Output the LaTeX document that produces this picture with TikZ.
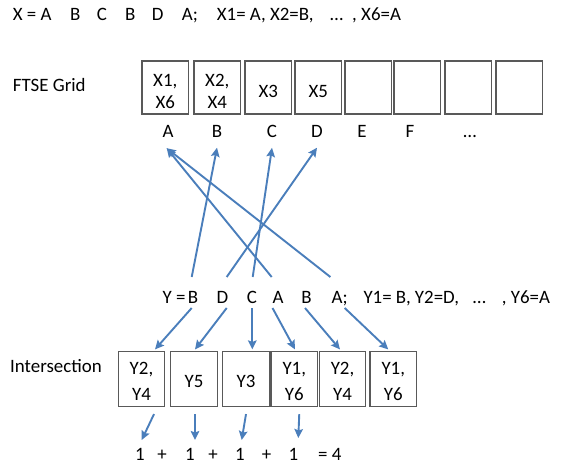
\documentclass[tikz,border=0pt]{standalone}
\usepackage{fontspec}
\setmainfont{Carlito}
\usetikzlibrary{arrows.meta}
\definecolor{arrowblue}{HTML}{4A7EBB}
\definecolor{boxgray}{HTML}{595959}
\tikzset{
  txt/.style={inner sep=0pt, font=\fontsize{18.9}{22}\selectfont},
  gridbox/.style={draw=boxgray, line width=1.2pt, minimum width=46.5pt, minimum height=53pt, inner sep=0pt, fill=white},
  intbox/.style={draw=boxgray, line width=1.2pt, minimum width=46.5pt, minimum height=55pt, inner sep=0pt, fill=white},
  boxtxt/.style={inner sep=0pt, align=center, font=\fontsize{18.9}{21.5}\selectfont},
  boxtxtb/.style={inner sep=0pt, align=center, font=\fontsize{18.9}{26}\selectfont},
  arr/.style={draw=arrowblue, line width=1.9pt, -{Stealth[length=9pt,width=8.5pt,inset=1.5pt]}}
}
\begin{document}
\begin{tikzpicture}[x=1pt,y=-1pt]
\useasboundingbox (0,0) rectangle (564,464);
% top line
\node[txt,anchor=base west] (t1) at (12.7,20.7) {X = A};
\node[txt,anchor=base west] (t2) at (70,20.7) {B};
\node[txt,anchor=base west] (t3) at (96.7,20.7) {C};
\node[txt,anchor=base west] (t4) at (125,20.7) {B};
\node[txt,anchor=base west] (t5) at (151.7,20.7) {D};
\node[txt,anchor=base west] (t6) at (181.7,20.7) {A;};
\node[txt,anchor=base west] (t7) at (216.7,20.7) {X1= A, X2=B,};
\node[txt,anchor=base west] (t8) at (330,20.7) {…};
\node[txt,anchor=base west] (t9) at (352,20.7) {, X6=A};
% FTSE grid
\node[txt,anchor=base west] (ftse) at (12.7,91) {FTSE Grid};
\node[gridbox] (g1) at (165.25,87.5) {};
\node[gridbox] (g2) at (217.25,87.5) {};
\node[gridbox] (g3) at (268.25,87.5) {};
\node[gridbox] (g4) at (318.25,87.5) {};
\node[gridbox] (g5) at (368.25,87.5) {};
\node[gridbox] (g6) at (417.25,87.5) {};
\node[gridbox] (g7) at (468.25,87.5) {};
\node[gridbox] (g8) at (519.25,87.5) {};
\node[boxtxt] (g1t) at ([yshift=-4pt]g1.center) {X1,\\X6};
\node[boxtxt] (g2t) at ([yshift=-4pt]g2.center) {X2,\\X4};
\node[boxtxt] (g3t) at ([yshift=-4pt]g3.center) {X3};
\node[boxtxt] (g4t) at ([yshift=-4pt]g4.center) {X5};
% grid letters
\node[txt,anchor=base] (gA) at (168,137.5) {A};
\node[txt,anchor=base] (gB) at (217,137.5) {B};
\node[txt,anchor=base] (gC) at (272,137.5) {C};
\node[txt,anchor=base] (gD) at (317,137.5) {D};
\node[txt,anchor=base] (gE) at (362,137.5) {E};
\node[txt,anchor=base] (gF) at (410,137.5) {F};
\node[txt,anchor=base] (gDots) at (470,137.5) {…};
% Y line
\node[txt,anchor=base west] (yY) at (162.5,303) {Y =};
\node[txt,anchor=base] (yB) at (193,303) {B};
\node[txt,anchor=base] (yD) at (222.5,303) {D};
\node[txt,anchor=base] (yC) at (252,303) {C};
\node[txt,anchor=base] (yA) at (278,303) {A};
\node[txt,anchor=base] (yB2) at (306.5,303) {B};
\node[txt,anchor=base west] (yA2) at (331.5,303) {A;};
\node[txt,anchor=base west] (y7) at (363.3,303) {Y1= B, Y2=D,};
\node[txt,anchor=base west] (y8) at (472.7,303) {…};
\node[txt,anchor=base west] (y9) at (501.7,303) {, Y6=A};
% upward arrows
\draw[arr] ([shift={(-1.3,-26)}]yB.base) -- ([shift={(0,10)}]gB.south);
\draw[arr] ([shift={(4.2,-26)}]yD.base) -- ([shift={(0,10)}]gD.south);
\draw[arr] ([shift={(0.7,-26)}]yC.base) -- ([shift={(0,10)}]gC.south);
\draw[arr] ([shift={(-6.3,-26)}]yA.base) -- ([shift={(-1.3,10.5)}]gA.south);
\draw[arr] ([shift={(-9.3,-26)}]yA2.base) -- ([shift={(-1.3,10.5)}]gA.south);
% Intersection
\node[txt,anchor=base west] (inter) at (10,372.7) {Intersection};
\node[intbox] (b1) at (141.5,379) {};
\node[intbox] (b2) at (194,379) {};
\node[intbox] (b3) at (246,379) {};
\node[intbox] (b4) at (294.25,379) {};
\node[intbox] (b5) at (342.5,379) {};
\node[intbox] (b6) at (393.25,379) {};
\node[boxtxtb] (b1t) at ([yshift=-2pt]b1.center) {Y2,\\Y4};
\node[boxtxtb] (b2t) at ([yshift=-2pt]b2.center) {Y5};
\node[boxtxtb] (b3t) at ([yshift=-2pt]b3.center) {Y3};
\node[boxtxtb] (b4t) at ([yshift=-2pt]b4.center) {Y1,\\Y6};
\node[boxtxtb] (b5t) at ([yshift=-2pt]b5.center) {Y2,\\Y4};
\node[boxtxtb] (b6t) at ([yshift=-2pt]b6.center) {Y1,\\Y6};
% downward arrows
\draw[arr] ([shift={(-1.3,5)}]yB.base) -- ([shift={(13.5,-1.5)}]b1.north);
\draw[arr] ([shift={(4.2,5)}]yD.base) -- ([shift={(1,-1.5)}]b2.north);
\draw[arr] ([shift={(0.3,5)}]yC.base) -- ([shift={(6.3,-1.5)}]b3.north);
\draw[arr] ([shift={(-5.5,5)}]yA.base) -- ([shift={(0.75,-1.5)}]b4.north);
\draw[arr] ([shift={(-1.5,5)}]yB2.base) -- ([shift={(-2.5,-1.5)}]b5.north);
\draw[arr] ([shift={(5,5)}]yA2.base) -- ([shift={(-5,-1.5)}]b6.north);
% sum line
\node[txt,anchor=base] (s1) at (140,460) {1};
\node[txt,anchor=base] (p1) at (162,460) {+};
\node[txt,anchor=base] (s2) at (190,460) {1};
\node[txt,anchor=base] (p2) at (213,460) {+};
\node[txt,anchor=base] (s3) at (240,460) {1};
\node[txt,anchor=base] (p3) at (266.7,460) {+};
\node[txt,anchor=base] (s4) at (293.3,460) {1};
\node[txt,anchor=base west] (eq) at (318,460) {= 4};
% bottom arrows
\draw[arr] ([shift={(12.5,7)}]b1.south) -- ([shift={(1.7,-20)}]s1.base);
\draw[arr] ([shift={(1,7)}]b2.south) -- ([shift={(5,-20)}]s2.base);
\draw[arr] ([shift={(0,7)}]b3.south) -- ([shift={(1.7,-20)}]s3.base);
\draw[arr] ([shift={(5,7)}]b4.south) -- ([shift={(5,-22)}]s4.base);
\end{tikzpicture}
\end{document}
